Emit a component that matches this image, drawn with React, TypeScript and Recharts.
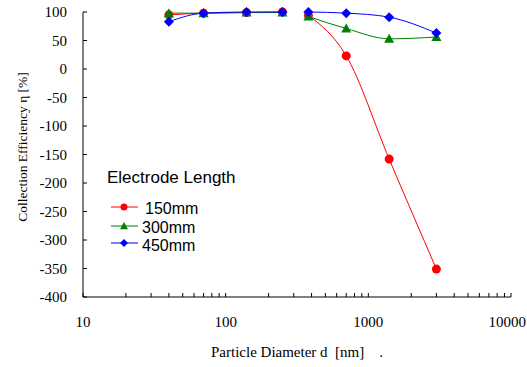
import { LineChart, Line, XAxis, YAxis, Legend, Label } from 'recharts';

// particle sizes (nm): two instruments, not joined
const smpsSizes = [40, 70, 140, 250];
const opcSizes = [380, 700, 1400, 3000];

// collection efficiency (%) per electrode length
const eff150Smps = [95, 98, 99, 100];
const eff150Opc = [94, 23, -158, -351];
const eff300Smps = [98, 98, 99, 99];
const eff300Opc = [92, 71, 53, 56];
const eff450Smps = [83, 98, 100, 100];
const eff450Opc = [100, 98, 91, 63];

const seriesNames = ['150mm', '300mm', '450mm'];
const seriesColors = ['#ff0000', '#008000', '#0000ff'];

const xTicks = [
  10, 20, 30, 40, 50, 60, 70, 80, 90,
  100, 200, 300, 400, 500, 600, 700, 800, 900,
  1000, 2000, 3000, 4000, 5000, 6000, 7000, 8000, 9000, 10000,
];
const xLabels = [10, 100, 1000, 10000];
const yTicks = [-400, -350, -300, -250, -200, -150, -100, -50, 0, 50, 100];

const toRows = (sizes: number[], vals: number[]) =>
  sizes.map((d, i) => ({ d, eff: vals[i] }));

const serif = '"Liberation Serif", "Times New Roman", serif';
const sans = '"Liberation Sans", Arial, sans-serif';

const markerPath = (kind: number, cx: number, cy: number, s = 1) => {
  if (kind === 1) return `M${cx},${cy - 5 * s}L${cx + 5 * s},${cy + 4 * s}L${cx - 5 * s},${cy + 4 * s}Z`;
  if (kind === 2) return `M${cx},${cy - 5 * s}L${cx + 5 * s},${cy}L${cx},${cy + 5 * s}L${cx - 5 * s},${cy}Z`;
  return '';
};

const makeDot = (kind: number, color: string) => (props: any) => {
  const { cx, cy, key } = props;
  if (cx == null || cy == null) return <g key={key} />;
  if (kind === 0) return <circle key={key} cx={cx} cy={cy} r={4.5} fill={color} />;
  return <path key={key} d={markerPath(kind, cx, cy)} fill={color} />;
};

const XTick = (props: any) => {
  const { x, payload } = props;
  if (!xLabels.includes(payload.value)) return <g />;
  const last = payload.value === 10000;
  return (
    <text
      x={last ? 526 : x}
      y={327}
      textAnchor={last ? 'end' : 'middle'}
      fontFamily={serif}
      fontSize={15}
      fill="#000"
    >
      {payload.value}
    </text>
  );
};

const YTick = (props: any) => {
  const { y, payload } = props;
  return (
    <text x={67} y={y + 5} textAnchor="end" fontFamily={serif} fontSize={15} fill="#000">
      {payload.value}
    </text>
  );
};

const rowLineY = [47, 66, 83];
const rowTextY = [53.8, 72.8, 91];
const rowTextX = [40, 37, 37];

const renderLegend = () => (
  <svg width={170} height={100}>
    <text x={2} y={23} fontFamily={sans} fontSize={17} fill="#000">
      Electrode Length
    </text>
    {seriesNames.map((name, i) => {
      const cy = rowLineY[i];
      const color = seriesColors[i];
      return (
        <g key={name}>
          <line x1={6} x2={33} y1={cy} y2={cy} stroke={color} strokeWidth={1} />
          {i === 0 ? (
            <circle cx={19} cy={cy} r={3.5} fill={color} />
          ) : (
            <path d={markerPath(i, 19, cy, 0.8)} fill={color} />
          )}
          <text x={rowTextX[i]} y={rowTextY[i]} fontFamily={sans} fontSize={16} fill="#000">
            {name}
          </text>
        </g>
      );
    })}
  </svg>
);

const segments = [
  { key: 'a150', data: toRows(smpsSizes, eff150Smps), s: 0 },
  { key: 'b150', data: toRows(opcSizes, eff150Opc), s: 0 },
  { key: 'a300', data: toRows(smpsSizes, eff300Smps), s: 1 },
  { key: 'b300', data: toRows(opcSizes, eff300Opc), s: 1 },
  { key: 'a450', data: toRows(smpsSizes, eff450Smps), s: 2 },
  { key: 'b450', data: toRows(opcSizes, eff450Opc), s: 2 },
];

export default function App() {
  return (
    <div style={{ position: 'absolute', left: 0, top: 0, background: '#fff' }}>
      <LineChart width={527} height={367} margin={{ top: 12, right: 16, bottom: 0, left: 0 }}>
        <XAxis
          dataKey="d"
          type="number"
          scale="log"
          domain={[10, 10000]}
          ticks={xTicks}
          interval={0}
          allowDataOverflow
          height={70}
          tickSize={-4}
          tickMargin={0}
          tick={<XTick />}
          stroke="#000"
        >
          <Label
            content={() => (
              <text x={297} y={357} textAnchor="middle" fontFamily={serif} fontSize={15} fill="#000">
                {'Particle Diameter d\u00a0 [nm]\u00a0\u00a0\u00a0\u00a0.'}
              </text>
            )}
          />
        </XAxis>
        <YAxis
          type="number"
          domain={[-400, 100]}
          ticks={yTicks}
          interval={0}
          width={83}
          tickSize={-4}
          tickMargin={19}
          tick={<YTick />}
          stroke="#000"
        >
          <Label
            content={() => (
              <text
                transform="translate(27 147) rotate(-90)"
                textAnchor="middle"
                fontFamily={serif}
                fontSize={13.5}
                fill="#000"
              >
                Collection Efficiency η [%]
              </text>
            )}
          />
        </YAxis>
        {segments.map((seg) => (
          <Line
            key={seg.key}
            data={seg.data}
            dataKey="eff"
            type="monotone"
            stroke={seriesColors[seg.s]}
            strokeWidth={1}
            dot={makeDot(seg.s, seriesColors[seg.s])}
            activeDot={false}
            isAnimationActive={false}
            legendType="none"
          />
        ))}
        <Legend
          layout="horizontal"
          verticalAlign="middle"
          align="center"
          content={renderLegend}
          wrapperStyle={{ left: 105, top: 160, width: 170, height: 100 }}
        />
      </LineChart>
    </div>
  );
}
